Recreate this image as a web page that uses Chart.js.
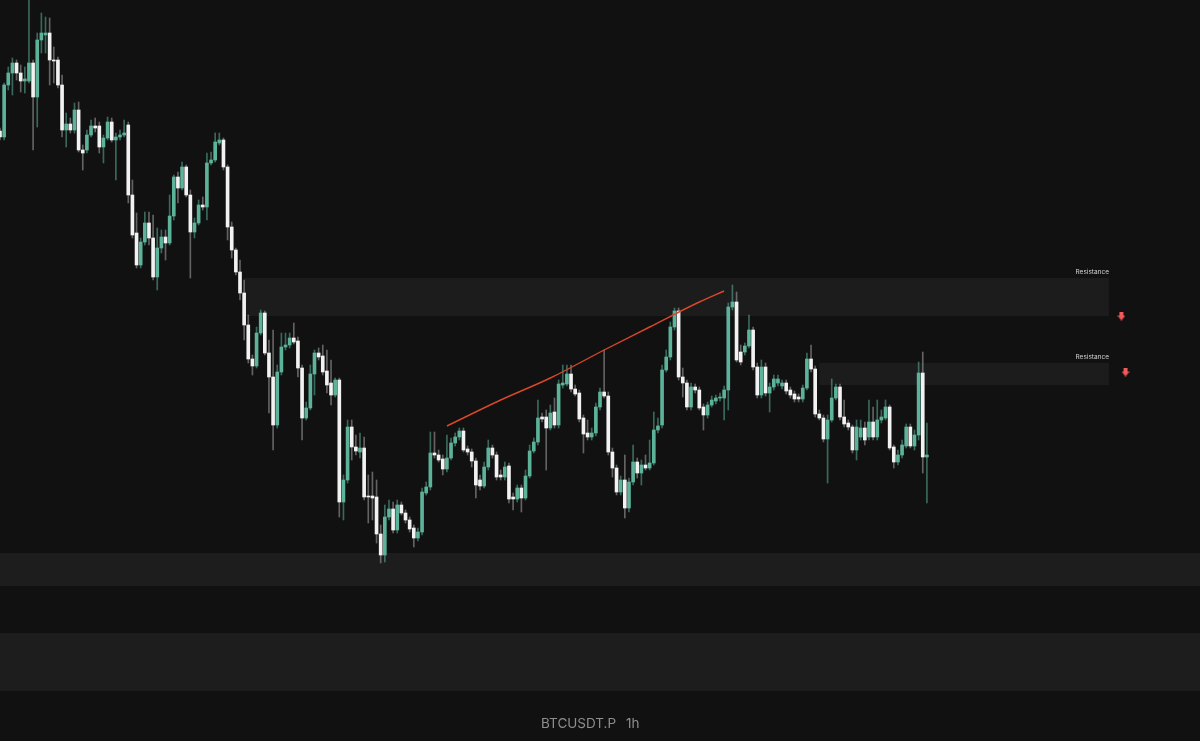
<!DOCTYPE html>
<html><head><meta charset="utf-8">
<script src="https://cdn.jsdelivr.net/npm/chart.js@4.4.1/dist/chart.umd.min.js"></script>
<style>html,body{margin:0;padding:0;background:#111111;overflow:hidden}#wrap{position:relative;width:1200px;height:741px}</style>
</head><body><div id="wrap"><canvas id="c"></canvas></div>
<script>
const opens=[70345,70315,70575,70635,70685,70635,70595,70595,70685,70515,
70800,70825,70835,70700,70700,70575,70350,70380,70350,70450,
70250,70250,70325,70370,70370,70265,70310,70390,70300,70315,
70325,70375,70025,69835,69675,69790,69885,69810,69615,69760,
69815,69785,69920,70115,70060,70165,70025,69840,69885,69975,
69965,70185,70200,70285,70300,70165,69865,69750,69640,69535,
69375,69205,69170,69335,69435,69235,69115,68875,69140,69265,
69275,69310,69295,69160,68910,68960,69130,69235,69220,69145,
69085,69025,69100,68490,68600,68865,68765,68740,68760,68520,
68520,68515,68330,68225,68415,68455,68350,68475,68435,68400,
68360,68310,68340,68535,68565,68735,68725,68705,68655,68710,
68785,68815,68845,68755,68740,68695,68600,68570,68665,68760,
68725,68625,68615,68670,68515,68505,68560,68510,68620,68745,
68790,68915,68915,68860,68940,68875,69075,69080,69130,69055,
69035,68910,68835,68815,68835,68965,69040,69020,68740,68660,
68540,68600,68460,68590,68690,68635,68675,68660,68685,68850,
68875,69150,69215,69365,69445,69115,69085,68965,69065,69050,
68965,68925,68975,68995,69010,69010,69050,69465,69490,69240,
69240,69270,69350,69165,69025,69165,69035,69065,69085,69070,
69085,69050,69030,69015,69005,69060,69205,69155,68930,68910,
68805,68900,69010,69065,68915,68885,68865,68750,68815,68860,
68815,68890,68815,68900,68910,68965,68765,68690,68725,68770,
68865,68770,68825,69135,68715];
const closes=[70315,70575,70635,70685,70635,70595,70605,70685,70515,70800,
70835,70835,70700,70695,70575,70350,70380,70350,70450,70250,
70235,70325,70370,70360,70265,70310,70390,70300,70315,70325,
70335,70025,69825,69675,69790,69885,69810,69615,69760,69815,
69785,69920,70115,70060,70165,70025,69840,69885,69975,69965,
70185,70200,70290,70300,70165,69865,69750,69640,69535,69375,
69205,69170,69335,69435,69235,69115,68875,69140,69265,69275,
69310,69290,69160,68910,68960,69130,69235,69215,69140,69075,
69025,69100,68490,68600,68865,68765,68745,68760,68515,68515,
68510,68330,68225,68415,68455,68350,68475,68435,68400,68355,
68310,68340,68540,68565,68735,68725,68700,68655,68710,68785,
68815,68845,68750,68740,68695,68575,68570,68665,68760,68725,
68615,68615,68665,68505,68505,68560,68510,68620,68745,68790,
68910,68905,68860,68935,68875,69080,69085,69130,69055,69030,
68905,68830,68815,68835,68965,69040,69020,68740,68660,68540,
68600,68460,68590,68690,68635,68675,68660,68685,68850,68870,
69150,69215,69365,69445,69115,69085,68965,69065,69050,68960,
68925,68975,69000,69010,69015,69050,69465,69490,69200,69190,
69270,69350,69165,69025,69165,69035,69065,69105,69105,69085,
69045,69025,69005,69005,69060,69205,69155,68930,68910,68805,
68900,69010,69065,68915,68880,68865,68750,68865,68860,68800,
68890,68815,68900,68915,68965,68760,68690,68725,68775,68865,
68770,68825,69135,68715,68725];
const highs=[70360,70585,70665,70710,70700,70675,70665,71000,70700,70835,
70935,70915,70910,70765,70715,70625,70435,70410,70485,70490,
70275,70350,70400,70410,70390,70325,70415,70410,70335,70350,
70400,70390,70100,69935,69810,69940,69940,69925,69860,69850,
69850,70025,70125,70140,70190,70175,70050,69910,70000,70015,
70235,70240,70335,70335,70310,70175,69890,69760,69700,69600,
69425,69225,69365,69450,69445,69300,69350,69175,69335,69335,
69335,69385,69315,69175,68990,69175,69250,69260,69275,69250,
69200,69110,69110,68625,68900,68900,68825,68835,68815,68625,
68640,68600,68375,68475,68500,68490,68500,68490,68450,68415,
68375,68360,68560,68590,68840,68840,68750,68725,68825,68810,
68835,68860,68860,68770,68755,68710,68625,68690,68800,68775,
68740,68650,68690,68685,68535,68575,68575,68650,68775,68810,
69000,68935,68950,68975,69010,69100,69175,69175,69175,69075,
69050,68925,68900,68860,68985,69060,69250,69040,68760,68675,
68620,68725,68610,68775,68710,68700,68725,68800,68940,68910,
69175,69250,69390,69460,69460,69160,69100,69085,69080,69065,
68980,68990,69020,69025,69035,69070,69485,69575,69540,69275,
69285,69425,69365,69185,69200,69185,69085,69125,69125,69100,
69100,69065,69045,69030,69075,69235,69275,69170,68950,68925,
68925,69105,69080,69080,69000,68900,68875,68900,68900,68890,
69000,68965,69000,68950,69000,68975,68775,68750,68800,68880,
68880,68850,69190,69240,68885];
const lows=[70300,70300,70550,70525,70600,70540,70535,70585,70250,70365,
70735,70735,70575,70585,70560,70315,70265,70335,70335,70240,
70150,70235,70315,70340,70235,70185,70300,70290,70100,70300,
70315,69985,69810,69660,69660,69775,69775,69600,69550,69735,
69700,69775,69900,69985,70050,70015,69610,69810,69875,69950,
69900,70175,70190,70275,70150,69800,69710,69625,69500,69300,
69185,69125,69160,69325,69225,68935,68750,68860,69125,69250,
69260,69280,69115,68800,68900,68950,69025,69200,69125,69035,
68975,69015,68415,68400,68585,68700,68725,68710,68500,68385,
68400,68285,68185,68190,68400,68335,68335,68425,68385,68340,
68265,68295,68325,68525,68550,68710,68690,68625,68640,68700,
68770,68800,68740,68725,68665,68510,68550,68560,68650,68710,
68600,68600,68600,68485,68450,68490,68440,68500,68610,68735,
68775,68890,68650,68850,68860,68860,69060,69070,69040,69020,
68890,68735,68800,68800,68820,68950,69010,68725,68615,68525,
68525,68410,68440,68575,68610,68575,68650,68650,68675,68835,
68860,69140,69200,69350,69100,69015,68950,68950,69035,68950,
68850,68910,68965,68980,68995,68900,68950,69450,69190,69175,
69225,69260,69150,69010,69010,69020,68940,69050,69070,69055,
69030,69010,68990,68990,68990,69050,69140,68915,68900,68790,
68585,68890,69000,68900,68865,68850,68735,68700,68800,68775,
68800,68800,68800,68885,68900,68750,68660,68675,68710,68760,
68760,68750,68800,68635,68485];

const slotCount=291;
const slotLabels=Array.from({length:slotCount},(_,i)=>'H'+i);
const priceMin=67295, priceMax=71000;

const zoneTop=[69610,69185,68235,67835];
const zoneBottom=[69420,69075,68070,67545];
const zoneStart=[59,198,-5,-5];
const zoneEnd=[268,268,300,300];
const zoneLabel=['Resistance','Resistance','',''];
const zoneColor=['#1c1c1c','#1c1c1c','#1d1d1d','#1d1d1d'];

const trendIdx=[108,121,133,146,157,169,175];
const trendVal=[68870,69000,69110,69250,69365,69490,69545];

const arrowIdx=[271,272];
const arrowVal=[69420,69140];

const titleMain='BTCUSDT.P', titleTf='1h';

const UP='#5db39a', DOWN='#f2f2f2';
const UPW='rgba(93,179,154,0.55)', DOWNW='rgba(200,200,200,0.45)';

const bodies=opens.map((o,i)=>[o,closes[i]]);
const wicks=lows.map((l,i)=>[l,highs[i]]);
const isUp=opens.map((o,i)=>closes[i]>o);

const trendData=new Array(slotCount).fill(null);
trendIdx.forEach((k,j)=>trendData[k]=trendVal[j]);
const arrowData=new Array(slotCount).fill(null);
arrowIdx.forEach((k,j)=>arrowData[k]=arrowVal[j]);

const arrowImg=document.createElement('canvas');
arrowImg.width=8; arrowImg.height=9;
(function(){const g=arrowImg.getContext('2d');g.fillStyle='#f05a5a';
g.fillRect(2,0,4,4);g.beginPath();g.moveTo(0,4);g.lineTo(8,4);g.lineTo(4,9);g.closePath();g.fill();})();

const zonesPlugin={id:'zones',
beforeDatasetsDraw(chart){
  const {ctx,chartArea:a,scales:{x,y}}=chart;
  ctx.save();
  for(let i=0;i<zoneTop.length;i++){
    let x0=Math.max(a.left,x.getPixelForValue(zoneStart[i]));
    let x1=Math.min(a.right,x.getPixelForValue(zoneEnd[i]));
    const y0=y.getPixelForValue(zoneTop[i]), y1=y.getPixelForValue(zoneBottom[i]);
    ctx.fillStyle=zoneColor[i];
    ctx.fillRect(x0,y0,x1-x0,y1-y0);
  }
  ctx.restore();
},
afterDatasetsDraw(chart){
  const {ctx,chartArea:a,scales:{x,y}}=chart;
  ctx.save();
  ctx.font='6.5px Inter, "Noto Sans", sans-serif';
  ctx.fillStyle='#d4d4d4';ctx.textAlign='right';ctx.textBaseline='middle';
  for(let i=0;i<zoneTop.length;i++){
    if(!zoneLabel[i])continue;
    ctx.fillText(zoneLabel[i],x.getPixelForValue(zoneEnd[i]),y.getPixelForValue(zoneTop[i])-6);
  }
  ctx.font='13.5px Inter, "Noto Sans", sans-serif';
  ctx.fillStyle='#8e8e8e';ctx.textAlign='left';ctx.textBaseline='alphabetic';
  ctx.fillText(titleMain,541,a.bottom-13);
  ctx.fillText(titleTf,626,a.bottom-13);
  ctx.restore();
}};

new Chart(document.getElementById('c'),{
  type:'bar',
  data:{labels:slotLabels,datasets:[
    {type:'line',data:trendData,borderColor:'#d9482b',borderWidth:1.4,pointRadius:0,spanGaps:true,tension:0.4,cubicInterpolationMode:'monotone',order:0},
    {type:'line',data:arrowData,showLine:false,pointStyle:arrowImg,pointRadius:4,order:0},
    {data:bodies,backgroundColor:isUp.map(u=>u?UP:DOWN),barThickness:3,grouped:false,borderWidth:0,order:1},
    {data:wicks,backgroundColor:isUp.map(u=>u?UPW:DOWNW),barThickness:1,grouped:false,borderWidth:0,order:2}
  ]},
  options:{
    responsive:true,maintainAspectRatio:false,animation:false,devicePixelRatio:1,
    layout:{padding:0,autoPadding:false},
    plugins:{legend:{display:false},tooltip:{enabled:false},title:{display:false}},
    scales:{
      x:{display:false,offset:false,grid:{display:false}},
      y:{display:false,min:priceMin,max:priceMax,grid:{display:false}}
    }
  },
  plugins:[zonesPlugin]
});
</script></body></html>
